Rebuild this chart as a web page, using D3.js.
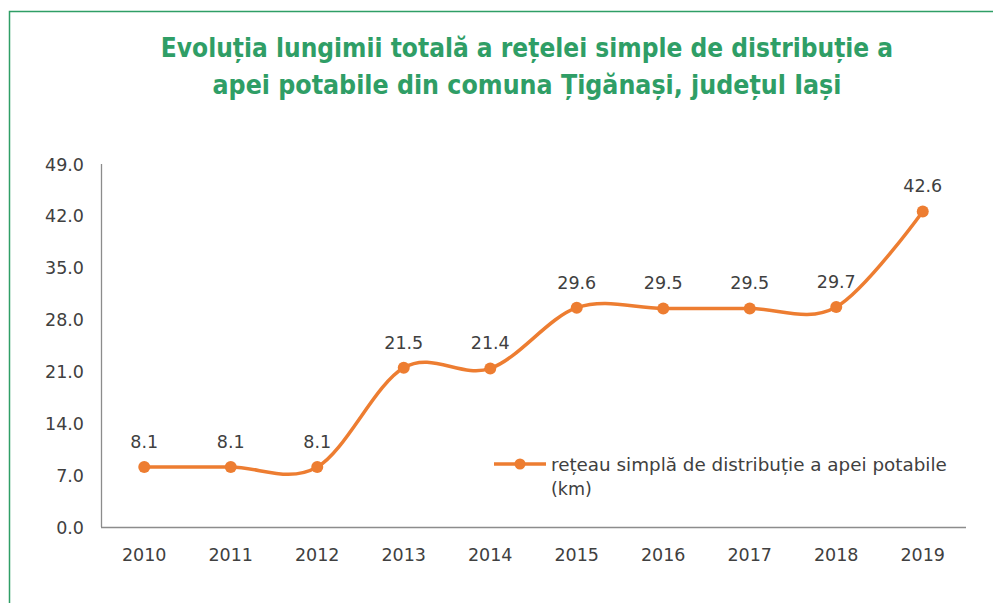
<!DOCTYPE html>
<html>
<head>
<meta charset="utf-8">
<title>Evoluția lungimii rețelei</title>
<script src="https://cdn.jsdelivr.net/npm/d3@7"></script>
<style>
  body { margin: 0; background: #fff; }
  svg text { font-family: "DejaVu Sans", Tahoma, sans-serif; }
  svg text.title { font-family: "DejaVu Sans Condensed", "DejaVu Sans", sans-serif; }
</style>
</head>
<body>
<div id="chart"></div>
<script>
// data
var years = ['2010','2011','2012','2013','2014','2015','2016','2017','2018','2019'];
var lengthKm = [8.1, 8.1, 8.1, 21.5, 21.4, 29.6, 29.5, 29.5, 29.7, 42.6];
var yTicks = [0, 7, 14, 21, 28, 35, 42, 49];
var titleLines = ['Evoluția lungimii totală a rețelei simple de distribuție a',
                  'apei potabile din comuna Țigănași, județul Iași'];
var legendLines = ['rețeau simplă de distribuție a apei potabile', '(km)'];

var w = 993, h = 603;
var green = '#2f9e66', orange = '#ed7d31', grey = '#404040';
var fs = 17.5;

var svg = d3.select('#chart').append('svg')
  .attr('width', w).attr('height', h);

// green frame, left and top only
svg.append('path')
  .attr('d', 'M9.5,' + h + 'V11.5H' + w)
  .attr('fill', 'none').attr('stroke', green).attr('stroke-width', 1.5);

// title, scaled to the reference widths
var titleWidths = [733, 629];
titleLines.forEach(function(t, i){
  var el = svg.append('text')
    .attr('class', 'title')
    .attr('x', 527).attr('y', 57 + i * 37)
    .attr('text-anchor', 'middle')
    .attr('font-weight', 'bold')
    .attr('font-size', 23)
    .attr('fill', green)
    .text(t);
  var len = el.node().getComputedTextLength();
  el.attr('font-size', 23 * titleWidths[i] / len);
});

// scales (plot area)
var pLeft = 101, pRight = 966, pTop = 164, pBottom = 527;
var x = d3.scaleBand().domain(years).range([pLeft, pRight]);
var y = d3.scaleLinear().domain([0, 49]).range([pBottom, pTop]);

// axis lines
svg.append('line')
  .attr('x1', pLeft + 0.5).attr('x2', pLeft + 0.5)
  .attr('y1', pTop).attr('y2', pBottom)
  .attr('stroke', '#8c8c8c').attr('stroke-width', 1.3);
svg.append('line')
  .attr('x1', pLeft).attr('x2', pRight)
  .attr('y1', pBottom + 0.5).attr('y2', pBottom + 0.5)
  .attr('stroke', '#8c8c8c').attr('stroke-width', 1.3);

// y tick labels
svg.selectAll('.ylab')
  .data(yTicks)
  .enter()
  .append('text')
  .attr('class', 'ylab')
  .attr('x', 84)
  .attr('y', function(d){ return y(d) + 6.5; })
  .attr('text-anchor', 'end')
  .attr('font-size', fs)
  .attr('fill', grey)
  .text(function(d){ return d.toFixed(1); });

// x tick labels
svg.selectAll('.xlab')
  .data(years)
  .enter()
  .append('text')
  .attr('class', 'xlab')
  .attr('x', function(d){ return x(d) + x.bandwidth() / 2; })
  .attr('y', 561)
  .attr('text-anchor', 'middle')
  .attr('font-size', fs)
  .attr('fill', grey)
  .text(function(d){ return d; });

// smoothed line
var pts = years.map(function(d, i){ return [x(d) + x.bandwidth() / 2, y(lengthKm[i])]; });
var line = d3.line().curve(d3.curveCardinal.tension(0));
svg.append('path')
  .attr('d', line(pts))
  .attr('fill', 'none')
  .attr('stroke', orange)
  .attr('stroke-width', 3.5)
  .attr('stroke-linecap', 'round');

svg.selectAll('.dot')
  .data(pts)
  .enter()
  .append('circle')
  .attr('class', 'dot')
  .attr('cx', function(d){ return d[0]; })
  .attr('cy', function(d){ return d[1]; })
  .attr('r', 6)
  .attr('fill', orange);

// value labels
svg.selectAll('.val')
  .data(lengthKm)
  .enter()
  .append('text')
  .attr('class', 'val')
  .attr('x', function(d, i){ return pts[i][0]; })
  .attr('y', function(d, i){ return pts[i][1] - 19; })
  .attr('text-anchor', 'middle')
  .attr('font-size', fs)
  .attr('fill', grey)
  .text(function(d){ return d.toFixed(1); });

// legend
var lg = svg.append('g');
lg.append('line')
  .attr('x1', 494).attr('x2', 546)
  .attr('y1', 464).attr('y2', 464)
  .attr('stroke', orange).attr('stroke-width', 3.5);
lg.append('circle')
  .attr('cx', 520).attr('cy', 464).attr('r', 5.5)
  .attr('fill', orange);
var legW = [396, 37];
legendLines.forEach(function(t, i){
  var el = lg.append('text')
    .attr('x', 551).attr('y', 471 + i * 24)
    .attr('font-size', fs)
    .attr('fill', grey)
    .text(t);
  if (i === 0) {
    var len = el.node().getComputedTextLength();
    el.attr('font-size', fs * legW[0] / len);
  }
});
</script>
</body>
</html>
